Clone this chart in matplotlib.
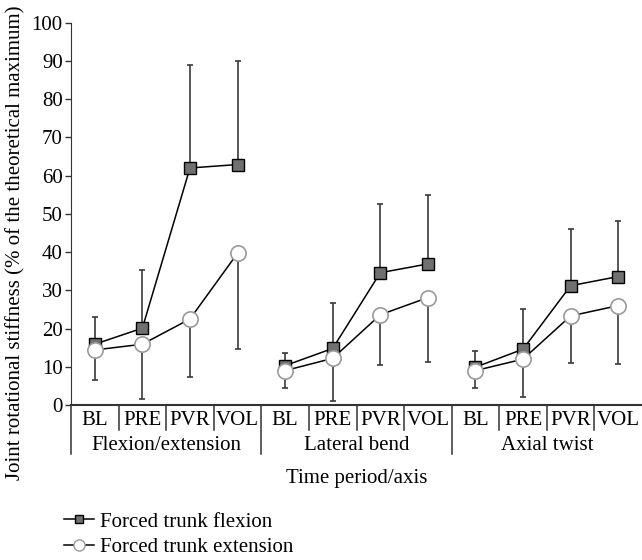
import matplotlib
matplotlib.use("Agg")
import matplotlib.pyplot as plt
from matplotlib.lines import Line2D
import matplotlib.transforms as mtransforms

plt.rcParams["font.family"] = ["Liberation Serif", "DejaVu Serif"]

# Data
periods = ["BL", "PRE", "PVR", "VOL"]
axes_names = ["Flexion/extension", "Lateral bend", "Axial twist"]

flex_mean = [15.9, 20.1, 62.0, 62.9, 10.3, 14.8, 34.6, 36.9, 9.9, 14.6, 31.2, 33.6]
flex_upper = [22.9, 35.3, 88.9, 89.9, 13.6, 26.6, 52.7, 55.0, 14.1, 25.0, 46.0, 48.2]
ext_mean = [14.4, 15.9, 22.5, 39.7, 9.0, 12.2, 23.6, 28.1, 9.0, 12.0, 23.3, 26.0]
ext_lower = [6.5, 1.5, 7.3, 14.6, 4.4, 1.1, 10.5, 11.2, 4.5, 2.0, 11.1, 10.8]

FS = 15

fig = plt.figure(figsize=(6.42, 5.6), dpi=100)
ax = fig.add_axes([71 / 642, 1 - 405 / 560, 1 - 71 / 642, (405 - 22.7) / 560])

x = list(range(len(flex_mean)))
up_err = [u - m for u, m in zip(flex_upper, flex_mean)]
dn_err = [m - l for m, l in zip(ext_mean, ext_lower)]

# error bars (flexion up, extension down)
ax.errorbar(x, flex_mean, yerr=[[0] * len(x), up_err], fmt="none",
            ecolor="#3a3a3a", elinewidth=1.2, capsize=2.5, capthick=1.2, zorder=1)
ax.errorbar(x, ext_mean, yerr=[dn_err, [0] * len(x)], fmt="none",
            ecolor="#3a3a3a", elinewidth=1.2, capsize=2.5, capthick=1.2, zorder=1)

# lines and markers per axis group
for g in range(3):
    xs = x[g * 4:(g + 1) * 4]
    ax.plot(xs, flex_mean[g * 4:(g + 1) * 4], color="black", lw=1.1,
            marker="s", ms=8, mfc="#707070", mec="black", mew=1.0, zorder=3)
    ax.plot(xs, ext_mean[g * 4:(g + 1) * 4], color="black", lw=1.1,
            marker="o", ms=11, mfc="white", mec="#9a9a9a", mew=1.2, zorder=4)

ax.set_xlim(-0.5, 11.5)
ax.set_ylim(0, 100)
ax.set_yticks(range(0, 101, 10))
ax.tick_params(axis="y", length=4, width=1, labelsize=FS, pad=2, color="#333333")
ax.tick_params(axis="x", length=0, labelsize=FS, pad=4)
ax.set_xticks(x)
ax.set_xticklabels(periods * 3)

for s in ["top", "right"]:
    ax.spines[s].set_visible(False)
ax.spines["left"].set_color("#333333")
ax.spines["bottom"].set_color("#333333")
ax.spines["bottom"].set_linewidth(1.5)

# category separators below the axis
trans = mtransforms.blended_transform_factory(ax.transData, ax.transAxes)
h_short = 25 / (405 - 22.7)
h_long = 49 / (405 - 22.7)
for i in range(12):
    xb = i - 0.5
    if i % 4 == 0:
        ax.plot([xb, xb], [0, -h_long], transform=trans, color="#333333", lw=1.1, clip_on=False)
    else:
        ax.plot([xb, xb], [0, -h_short], transform=trans, color="#333333", lw=1.1, clip_on=False)

for g, name in enumerate(axes_names):
    ax.text(g * 4 + 1.5, -41 / (405 - 22.7), name, transform=trans,
            ha="center", va="center", fontsize=FS)

fig.text(0.5 * (71 / 642 + 1), 1 - 478 / 560, "Time period/axis",
         ha="center", va="center", fontsize=FS)
fig.text(16 / 642, 1 - 243 / 560, "Joint rotational stiffness (% of the theoretical maximum)",
         rotation=90, ha="center", va="center", fontsize=FS)

handles = [
    Line2D([], [], color="black", lw=1.1, marker="s", ms=6, mfc="#707070", mec="black"),
    Line2D([], [], color="black", lw=1.1, marker="o", ms=8, mfc="white", mec="#9a9a9a"),
]
fig.legend(handles, ["Forced trunk flexion", "Forced trunk extension"],
           loc="upper left", bbox_to_anchor=(64 / 642, 1 - 512 / 560),
           frameon=False, fontsize=FS, handlelength=1.45, handletextpad=0.3,
           labelspacing=0.3, borderaxespad=0, borderpad=0)

fig.savefig("out.png", dpi=100)
